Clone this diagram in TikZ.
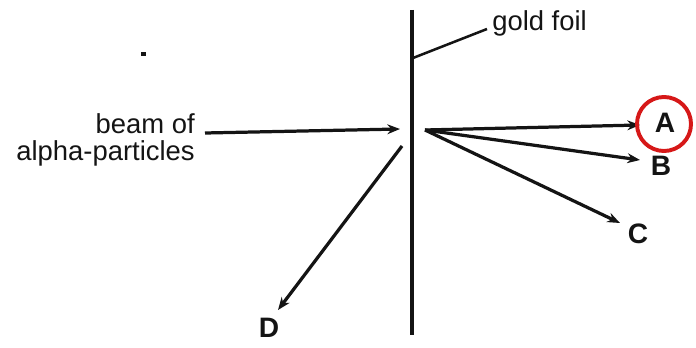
\documentclass[tikz,border=0pt]{standalone}
\usepackage{fontspec}
\setmainfont{Liberation Sans}
\usetikzlibrary{arrows.meta, positioning}
\definecolor{inkblack}{RGB}{20,20,20}
\definecolor{markred}{RGB}{214,24,24}
\tikzset{
  ray/.style={-{Stealth[length=9pt, width=7pt]}, line width=2.3pt, color=inkblack},
  foil/.style={line width=2.3pt, color=inkblack},
  leader/.style={line width=1.8pt, color=inkblack},
  caption/.style={font=\fontsize{19.5}{19.2}\selectfont, text=inkblack, inner sep=0pt},
  letter/.style={font=\fontsize{20}{21}\selectfont\bfseries, text=inkblack, inner sep=0pt},
  ring/.style={circle, draw=markred, line width=2.8pt, minimum size=1.35cm, inner sep=0pt}
}

\begin{document}
\begin{tikzpicture}[x=0.025cm, y=-0.025cm]
  \useasboundingbox (0,0) rectangle (696,348);

  % Gold foil
  \coordinate (foiltop) at (412,10);
  \coordinate (foilbot) at (412,335);
  \draw[foil] (foiltop) -- (foilbot);
  \node[caption, anchor=base west] (gold) at (492,31) {gold foil};
  \coordinate (hit) at (413,58);
  \coordinate (leadend) at (487,29);
  \draw[leader] (hit) -- (leadend);

  % Stray dot
  \fill[inkblack] (141,52) rectangle (146,56);

  % Incoming beam
  \node[caption, align=right, anchor=base east] (beam) at (195,160) {beam of\\alpha-particles};
  \coordinate (src) at (205,133);
  \coordinate (tgt) at (400,129);
  \draw[ray] (src) -- (tgt);

  % Scattered particles
  \coordinate (o) at (425,130);
  \coordinate (o2) at (402,146);
  \node[letter] (labA) at (665,123) {A};
  \node[letter] (labB) at (661,166) {B};
  \node[letter] (labC) at (638,234) {C};
  \node[letter] (labD) at (269,328) {D};
  \coordinate (tipA) at (640,125);
  \coordinate (tipB) at (640,160);
  \coordinate (tipC) at (620,223);
  \coordinate (tipD) at (278,310);
  \draw[ray] (o) -- (tipA);
  \draw[ray] (o) -- (tipB);
  \draw[ray] (o) -- (tipC);
  \draw[ray] (o2) -- (tipD);

  % Marked answer
  \node[ring] (mark) at (664,124) {};
\end{tikzpicture}
\end{document}
